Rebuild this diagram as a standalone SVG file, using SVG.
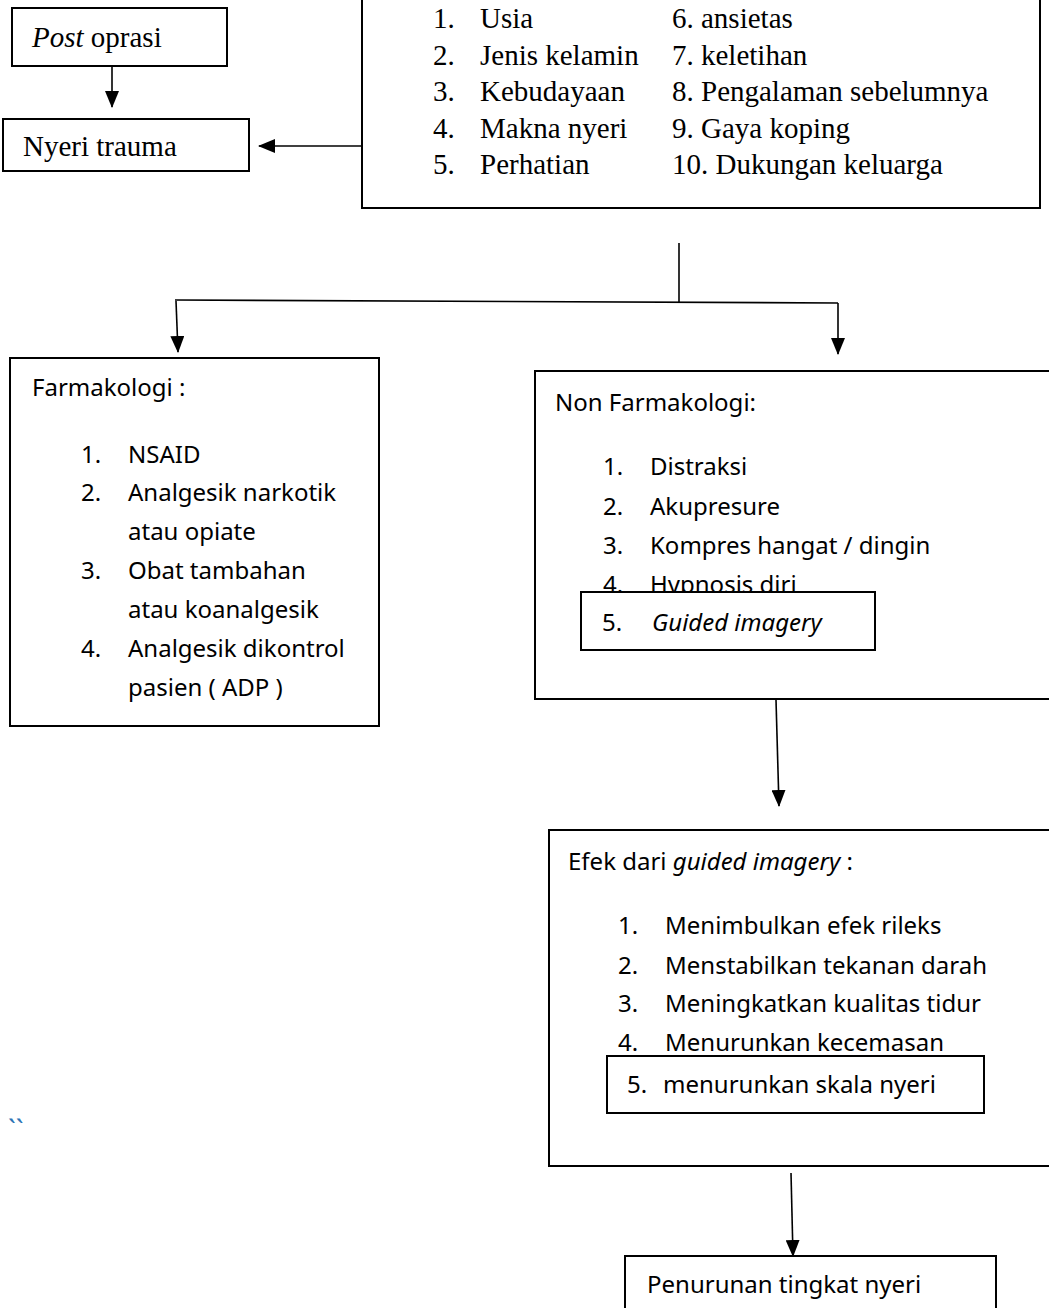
<svg xmlns="http://www.w3.org/2000/svg" width="1049" height="1308" viewBox="0 0 1049 1308">
<style>
.box{fill:#fff;stroke:#000;stroke-width:2}
.ln{fill:none;stroke:#000;stroke-width:1.6}
.tr{font-family:"Liberation Serif","Times New Roman",serif;font-size:29px;fill:#000}
.sn{font-family:"Noto Sans","Open Sans",sans-serif;font-size:24px;fill:#000}
.it{font-style:italic}
</style>
<defs>
<marker id="ah" markerUnits="userSpaceOnUse" markerWidth="17" markerHeight="14" refX="16" refY="7" orient="auto" viewBox="0 0 17 14">
<path d="M0,0 L17,7 L0,14 Z" fill="#000"/>
</marker>
</defs>
<rect width="1049" height="1308" fill="#fff"/>

<g id="connectors">
<line class="ln" x1="112" y1="66" x2="112" y2="107" marker-end="url(#ah)"/>
<line class="ln" x1="362" y1="146" x2="259" y2="146" marker-end="url(#ah)"/>
<line class="ln" x1="679" y1="243" x2="679" y2="302"/>
<polyline class="ln" points="175,300 838,303"/>
<line class="ln" x1="176" y1="301" x2="178" y2="352" marker-end="url(#ah)"/>
<line class="ln" x1="838" y1="303" x2="838" y2="354" marker-end="url(#ah)"/>
<line class="ln" x1="776" y1="700" x2="779" y2="806" marker-end="url(#ah)"/>
<line class="ln" x1="791" y1="1173" x2="793" y2="1256" marker-end="url(#ah)"/>
</g>

<g id="post-oprasi">
<rect class="box" x="12" y="8" width="215" height="58"/>
<text class="tr" x="32" y="47"><tspan class="it">Post</tspan> oprasi</text>
</g>

<g id="nyeri-trauma">
<rect class="box" x="3" y="119" width="246" height="52"/>
<text class="tr" x="23" y="156">Nyeri trauma</text>
</g>

<g id="faktor">
<rect class="box" x="362" y="-10" width="678" height="218"/>
<g class="tr">
<text x="433" y="28">1.</text><text x="480" y="28">Usia</text>
<text x="433" y="65">2.</text><text x="480" y="65">Jenis kelamin</text>
<text x="433" y="101">3.</text><text x="480" y="101">Kebudayaan</text>
<text x="433" y="138">4.</text><text x="480" y="138">Makna nyeri</text>
<text x="433" y="174">5.</text><text x="480" y="174">Perhatian</text>
<text x="672" y="28">6. ansietas</text>
<text x="672" y="65">7. keletihan</text>
<text x="672" y="101">8. Pengalaman sebelumnya</text>
<text x="672" y="138">9. Gaya koping</text>
<text x="672" y="174">10. Dukungan keluarga</text>
</g>
</g>

<g id="farmakologi">
<rect class="box" x="10" y="358" width="369" height="368"/>
<g class="sn">
<text x="32" y="396">Farmakologi :</text>
<text x="81" y="463">1.</text><text x="128" y="463">NSAID</text>
<text x="81" y="501">2.</text><text x="128" y="501">Analgesik narkotik</text>
<text x="128" y="540">atau opiate</text>
<text x="81" y="579">3.</text><text x="128" y="579">Obat tambahan</text>
<text x="128" y="618">atau koanalgesik</text>
<text x="81" y="657">4.</text><text x="128" y="657">Analgesik dikontrol</text>
<text x="128" y="696">pasien ( ADP )</text>
</g>
</g>

<g id="non-farmakologi">
<rect class="box" x="535" y="371" width="530" height="328"/>
<g class="sn">
<text x="555" y="411">Non Farmakologi:</text>
<text x="603" y="475">1.</text><text x="650" y="475">Distraksi</text>
<text x="603" y="515">2.</text><text x="650" y="515">Akupresure</text>
<text x="603" y="554">3.</text><text x="650" y="554">Kompres hangat / dingin</text>
<text x="603" y="593">4.</text><text x="650" y="593">Hypnosis diri</text>
</g>
</g>

<g id="guided-imagery">
<rect class="box" x="581" y="592" width="294" height="58"/>
<g class="sn">
<text x="602" y="631">5.</text><text class="it" x="652" y="631">Guided imagery</text>
</g>
</g>

<g id="efek">
<rect class="box" x="549" y="830" width="516" height="336"/>
<g class="sn">
<text x="568" y="870">Efek dari <tspan class="it">guided imagery</tspan> :</text>
<text x="618" y="934">1.</text><text x="665" y="934">Menimbulkan efek rileks</text>
<text x="618" y="974">2.</text><text x="665" y="974">Menstabilkan tekanan darah</text>
<text x="618" y="1012">3.</text><text x="665" y="1012">Meningkatkan kualitas tidur</text>
<text x="618" y="1051">4.</text><text x="665" y="1051">Menurunkan kecemasan</text>
</g>
</g>

<g id="skala-nyeri">
<rect class="box" x="607" y="1056" width="377" height="57"/>
<g class="sn">
<text x="627" y="1093">5.</text><text x="663" y="1093">menurunkan skala nyeri</text>
</g>
</g>

<g id="penurunan">
<rect class="box" x="625" y="1256" width="371" height="70"/>
<text class="sn" x="647" y="1293">Penurunan tingkat nyeri</text>
</g>

<text x="8" y="1140" font-family="Noto Sans, sans-serif" font-size="28" fill="#2E74B5">``</text>
</svg>
